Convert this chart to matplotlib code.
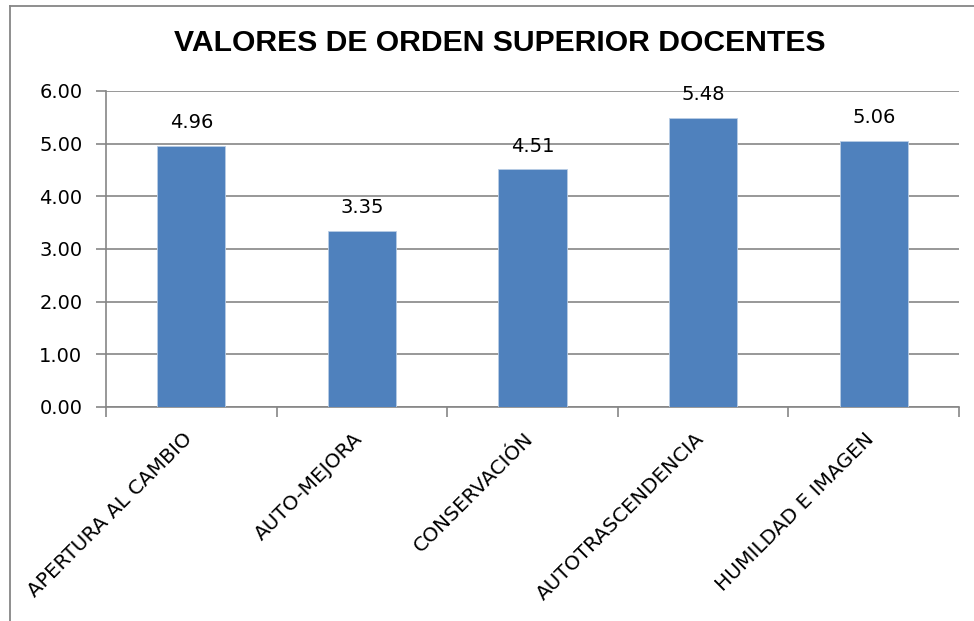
import numpy as np
import matplotlib.pyplot as plt
from matplotlib.lines import Line2D
from matplotlib.transforms import ScaledTranslation

# Datos del grafico
categorias = ['APERTURA AL CAMBIO', 'AUTO-MEJORA', 'CONSERVACIÓN',
              'AUTOTRASCENDENCIA', 'HUMILDAD E IMAGEN']
valores = [4.96, 3.35, 4.51, 5.48, 5.06]
titulo = 'VALORES DE ORDEN SUPERIOR DOCENTES'

gris = '#868686'

fig = plt.figure(figsize=(9.74, 6.21), dpi=100, facecolor='white')
ax = fig.add_axes([106 / 974, 1 - 407 / 621, (959 - 106) / 974, (407 - 91) / 621])

# marco exterior (solo borde superior e izquierdo visibles)
fig.lines.append(Line2D([10 / 974, 10 / 974], [0, 1 - 6 / 621], transform=fig.transFigure,
                        color=gris, linewidth=1.3))
fig.lines.append(Line2D([10 / 974, 1], [1 - 6 / 621, 1 - 6 / 621], transform=fig.transFigure,
                        color=gris, linewidth=1.3))

x = np.arange(len(categorias))
ax.bar(x, valores, width=0.4, color='#4F81BD', edgecolor='#B9CDE5',
       linewidth=0.6, zorder=3)

for xi, v in zip(x, valores):
    ax.annotate('{:.2f}'.format(v), (xi, v), xytext=(0, 10), textcoords='offset points',
                ha='center', va='bottom', fontsize=14)

ax.set_xlim(-0.5, len(categorias) - 0.5)
ax.set_ylim(0, 6)
ax.set_yticks(np.arange(0, 7, 1))
ax.set_yticklabels(['{:.2f}'.format(t) for t in np.arange(0, 7, 1)], fontsize=14)
ax.yaxis.grid(True, color=gris, linewidth=1.2, zorder=0)

# ticks del eje x en los limites de categoria
ax.set_xticks(np.arange(-0.5, len(categorias), 1))
ax.set_xticklabels([])
ax.tick_params(axis='x', which='major', length=7, color=gris, width=1.2)
ax.tick_params(axis='y', length=7, color=gris, width=1.2, pad=10)

# etiquetas de categoria giradas, bajo el centro de cada barra
desplazamiento = ScaledTranslation(-9 / 100, -22 / 100, fig.dpi_scale_trans)
for xi, cat in zip(x, categorias):
    ax.text(xi, 0, cat, transform=ax.get_xaxis_transform() + desplazamiento,
            rotation=45, rotation_mode='anchor', ha='right', va='top', fontsize=14.5)

for s in ['top', 'right']:
    ax.spines[s].set_visible(False)
for s in ['left', 'bottom']:
    ax.spines[s].set_color(gris)
    ax.spines[s].set_linewidth(1.2)

fig.text(500 / 974, 1 - 43 / 621, titulo, ha='center', va='center', fontsize=21.7,
         fontweight='bold', family='Liberation Sans')

fig.savefig('out.png', dpi=100)
